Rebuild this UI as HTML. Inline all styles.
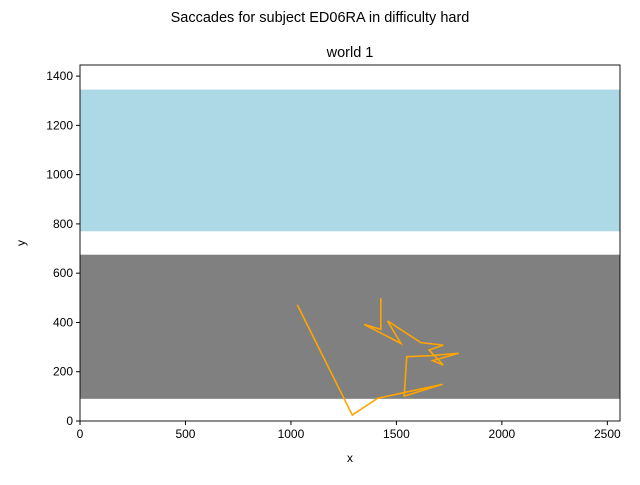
<!DOCTYPE html>
<html><head><meta charset="utf-8"><style>
body{margin:0;background:#fff;}
svg{font-family:"Liberation Sans","DejaVu Sans",sans-serif;}
</style></head><body>
<svg id="chart" width="640" height="480">
<text x="320" y="22" font-size="14.5" text-anchor="middle">Saccades for subject ED06RA in difficulty hard</text>
<text x="350" y="57" font-size="14.5" text-anchor="middle">world 1</text>
<g id="regions"></g>
<g id="series"></g>
<g id="axes"></g>
<text x="350" y="462" font-size="12" text-anchor="middle">x</text>
<text x="25" y="243" font-size="12" text-anchor="middle" transform="rotate(-90 25 243)">y</text>
</svg>
<script>
const xTicks=[0,500,1000,1500,2000,2500];
const yTicks=[0,200,400,600,800,1000,1200,1400];
const regionNames=['screen-top-region','screen-bottom-region'];
const regionY0=[770,90];
const regionY1=[1345,675];
const regionColors=['#add8e6','#808080'];
const sx=[1030,1291,1410,1719,1537,1549,1660,1795,1672,1722,1655,1722,1616,1458,1521,1347,1426,1426];
const sy=[472,24,92,149,101,261,265,275,245,227,288,308,318,406,315,392,372,498];
const X0=80,X1=620,Y0=421,Y1=65,xmax=2560,ymax=1445;
const xs=v=>X0+v/xmax*(X1-X0);
const ys=v=>Y0-v/ymax*(Y0-Y1);
const NS='http://www.w3.org/2000/svg';
function mk(t,a,p){const e=document.createElementNS(NS,t);for(const k in a)e.setAttribute(k,a[k]);p.appendChild(e);return e;}
const R=document.getElementById('regions');
regionY0.forEach((v,i)=>{
 const r=mk('rect',{x:X0,y:ys(regionY1[i]),width:X1-X0,height:ys(regionY0[i])-ys(regionY1[i]),fill:regionColors[i]},R);
 
 
});
const S=document.getElementById('series');
const pl=mk('polyline',{points:sx.map((v,i)=>xs(v)+','+ys(sy[i])).join(' '),fill:'none',stroke:'#ffa500','stroke-width':1.6},S);


const A=document.getElementById('axes');
const fr=mk('rect',{x:X0,y:Y1,width:X1-X0,height:Y0-Y1,fill:'none',stroke:'#000','stroke-width':0.9},A);


xTicks.forEach(v=>{
 const x=xs(v);
 mk('line',{x1:x,x2:x,y1:Y0,y2:Y0+4,stroke:'#000'},A);
 const t=mk('text',{x:x,y:Y0+17,'font-size':12,'text-anchor':'middle'},A);
 t.textContent=v;
 
 
});
yTicks.forEach(v=>{
 const y=ys(v);
 mk('line',{x1:X0-4,x2:X0,y1:y,y2:y,stroke:'#000'},A);
 const t=mk('text',{x:X0-7,y:y+4,'font-size':12,'text-anchor':'end'},A);
 t.textContent=v;
 
 
});
</script>
</body></html>
